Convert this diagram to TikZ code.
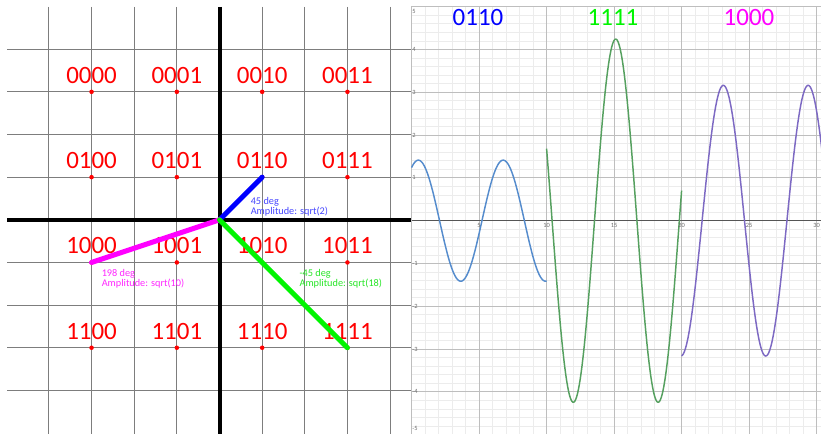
\documentclass[tikz,border=0pt]{standalone}
\usepackage{fontspec}
\setmainfont{Carlito}
\definecolor{gridc}{RGB}{125,125,125}
\definecolor{minc}{RGB}{236,236,236}
\definecolor{majc}{RGB}{190,190,190}
\definecolor{axc}{RGB}{85,85,85}
\definecolor{tickc}{RGB}{110,110,110}
\definecolor{vblue}{RGB}{0,0,255}
\definecolor{vgreen}{RGB}{0,245,0}
\definecolor{vmag}{RGB}{255,0,255}
\definecolor{ablue}{RGB}{70,70,255}
\definecolor{agreen}{RGB}{40,230,40}
\definecolor{amag}{RGB}{255,40,255}
\definecolor{cblue}{RGB}{85,140,205}
\definecolor{cgreen}{RGB}{85,160,95}
\definecolor{cpurple}{RGB}{125,105,195}
\begin{document}
\begin{tikzpicture}[x=0.75pt,y=-0.75pt,
  gridl/.style={line width=0.75pt, draw=gridc},
  axisl/.style={line width=3pt, draw=black},
  biglab/.style={font=\fontsize{18.7}{22}\selectfont, inner sep=0pt, anchor=base},
  dot/.style={circle, fill=red, inner sep=0pt, minimum size=3.4pt},
  vec/.style={line width=3.75pt, line cap=round},
  ann/.style={font=\fontsize{7.7}{9}\selectfont, inner sep=0pt, anchor=base west},
  minorl/.style={line width=0.6pt, draw=minc},
  majorl/.style={line width=0.75pt, draw=majc},
  ticklab/.style={font=\fontsize{4.8}{5}\selectfont, text=tickc, inner sep=0.5pt},
  curve/.style={line width=1.1pt}
]
\useasboundingbox (0,0) rectangle (821,434);
\fill[white] (0,0) rectangle (821,434);
\def\GOx{219.5}\def\GOy{219.8}\def\Gs{42.65}
\def\PX{411.6}\def\PY{220.7}\def\PSx{13.5}\def\PSy{42.8}

% ---------- left panel: constellation ----------
\foreach \k in {-4,...,4} {
  \draw[gridl] (7,{\GOy+\k*\Gs}) -- (411,{\GOy+\k*\Gs});
  \draw[gridl] ({\GOx+\k*\Gs},7) -- ({\GOx+\k*\Gs},434);
}
\coordinate (O) at (\GOx,\GOy);
\coordinate (axL) at (7,\GOy);
\coordinate (axR) at (411,\GOy);
\coordinate (axT) at (\GOx,7);
\coordinate (axB) at (\GOx,434);
\draw[axisl] (axL) -- (axR);
\draw[axisl] (axT) -- (axB);

\foreach \lab/\i/\j in {0000/-3/3, 0001/-1/3, 0010/1/3, 0011/3/3,
                        0100/-3/1, 0101/-1/1, 0110/1/1, 0111/3/1,
                        1000/-3/-1, 1001/-1/-1, 1010/1/-1, 1011/3/-1,
                        1100/-3/-3, 1101/-1/-3, 1110/1/-3, 1111/3/-3} {
  \node[dot] (p\lab) at ({\GOx+\i*\Gs},{\GOy-\j*\Gs}) {};
  \node[biglab, text=red] (l\lab) at ({\GOx+\i*\Gs},{\GOy-\j*\Gs-8.5}) {\lab};
}

\draw[vec, vblue] (O) -- (p0110.center);
\draw[vec, vmag] (O) -- (p1000.center);
\draw[vec, vgreen] (O) -- (p1111.center);

\node[ann, text=ablue] (a1) at (250.5,205) {45 deg};
\node[ann, text=ablue] (a2) at (250.5,214.5) {Amplitude: sqrt(2)};
\node[ann, text=amag] (b1) at (101.5,276.7) {198 deg};
\node[ann, text=amag] (b2) at (101.5,286.5) {Amplitude: sqrt(10)};
\node[ann, text=agreen] (c1) at (299.3,277) {-45 deg};
\node[ann, text=agreen] (c2) at (299.3,287) {Amplitude: sqrt(18)};

% ---------- right panel: waveforms ----------
\begin{scope}
\clip (411,7) rectangle (821,434);
\foreach \t in {1,...,30} \draw[minorl] ({\PX+\t*\PSx},7) -- ({\PX+\t*\PSx},434);
\foreach \v in {-25,...,25} \draw[minorl] (411,{\PY-\v*0.2*\PSy}) -- (821,{\PY-\v*0.2*\PSy});
\foreach \t in {5,10,...,30} \draw[majorl] ({\PX+\t*\PSx},7) -- ({\PX+\t*\PSx},434);
\foreach \v in {-5,...,5} \draw[majorl] (411,{\PY-\v*\PSy}) -- (821,{\PY-\v*\PSy});
\coordinate (xaL) at (411,\PY);
\coordinate (xaR) at (821,\PY);
\draw[line width=0.8pt, draw=axc] (xaL) -- (xaR);
\coordinate (yaT) at (411.2,7);
\coordinate (yaB) at (411.2,434);
\draw[line width=0.8pt, draw=majc] (yaT) -- (yaB);

\draw[curve, cblue] plot[domain=0:10, samples=200, smooth] ({\PX+\PSx*\x},{\PY-\PSy*1.41421*cos(deg(\x-0.5))});
\draw[curve, cgreen] plot[domain=10:20, samples=200, smooth] ({\PX+\PSx*\x},{\PY-\PSy*4.24264*cos(deg(\x-15.12))});
\draw[curve, cpurple] plot[domain=20:30.4, samples=200, smooth] ({\PX+\PSx*\x},{\PY-\PSy*3.16228*cos(deg(\x-23.09))});
\end{scope}

\foreach \t in {5,10,...,30} \node[ticklab, anchor=north] (tx\t) at ({\PX+\t*\PSx},222) {\t};
\foreach \v in {-4,...,-1,1,2,3,4} \node[ticklab, anchor=west] (ty\v) at (411.5,{\PY-\v*\PSy}) {\v};
\node[ticklab, anchor=west] (ty5) at (411.5,11) {5};
\node[ticklab, anchor=west] (tym5) at (411.5,428.5) {-5};

\node[biglab, text=vblue] (t0110) at (478,26) {0110};
\node[biglab, text=vgreen] (t1111) at (613,26) {1111};
\node[biglab, text=vmag] (t1000) at (749,26) {1000};
\end{tikzpicture}
\end{document}
